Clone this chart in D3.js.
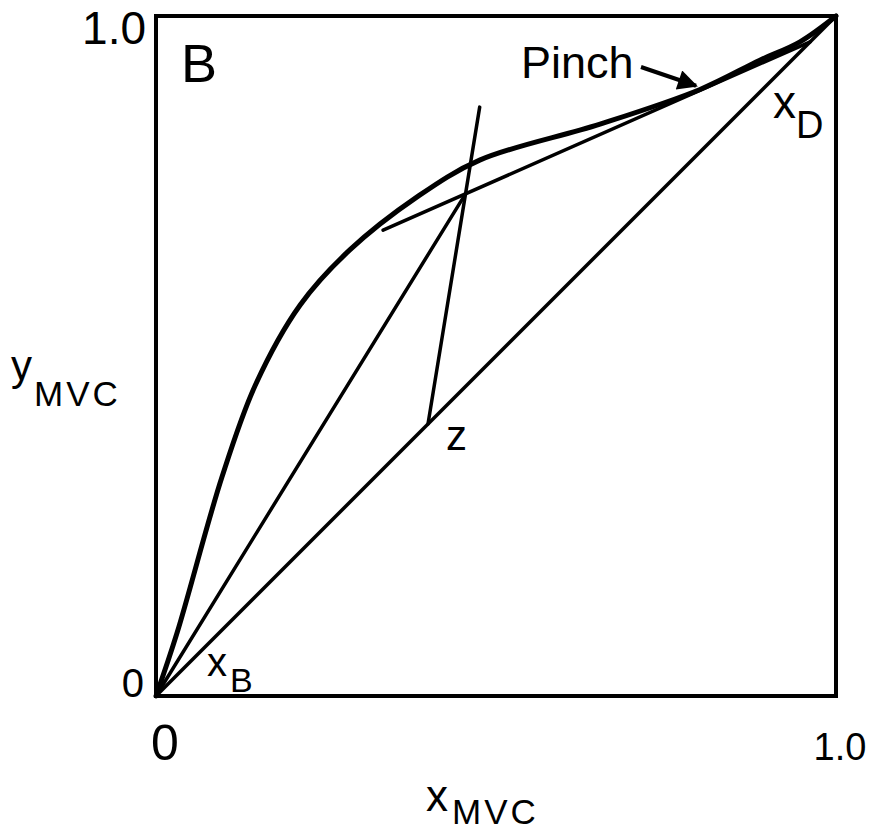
<!DOCTYPE html>
<html>
<head>
<meta charset="utf-8">
<script src="https://cdn.jsdelivr.net/npm/d3@7"></script>
<style>
  body { margin: 0; background: #fff; }
  svg text { font-family: "Liberation Sans", Arial, sans-serif; fill: #000; }
</style>
</head>
<body>
<div id="chart"></div>
<script>
// equilibrium curve (y vs x, mole fraction MVC)
const eqX = [0, 0.031, 0.097, 0.146, 0.212, 0.285, 0.384, 0.476, 0.653, 0.800, 0.888, 0.947, 1];
const eqY = [0, 0.093, 0.322, 0.457, 0.575, 0.656, 0.734, 0.788, 0.841, 0.892, 0.935, 0.962, 1];

const xB = 0.0;
const zF = 0.40;
const xD = 0.962;
const rectStart = [0.334, 0.685];   // left end of rectifying line
const qTop = [0.476, 0.866];        // upper end of feed line
const pinch = [0.80, 0.893];

const width = 874;
const height = 831;

const svg = d3.select("#chart")
    .append("svg")
    .attr("width", width)
    .attr("height", height);

const x = d3.scaleLinear().domain([0, 1]).range([156, 836]);
const y = d3.scaleLinear().domain([0, 1]).range([696, 16]);

const line = d3.line()
    .x(d => x(d[0]))
    .y(d => y(d[1]));

// intersection of rectifying line and feed line
const sR = (xD - rectStart[1]) / (xD - rectStart[0]);
const sQ = (qTop[1] - zF) / (qTop[0] - zF);
const ix = (rectStart[1] - sR * rectStart[0] - zF + sQ * zF) / (sQ - sR);
const iy = rectStart[1] + sR * (ix - rectStart[0]);

// frame
svg.append("rect")
    .attr("x", x(0))
    .attr("y", y(1))
    .attr("width", x(1) - x(0))
    .attr("height", y(0) - y(1))
    .attr("fill", "none")
    .attr("stroke", "#000")
    .attr("stroke-width", 4);

// diagonal y = x
svg.append("path")
    .attr("d", line([[0, 0], [1, 1]]))
    .attr("fill", "none")
    .attr("stroke", "#000")
    .attr("stroke-width", 3.5);

// equilibrium curve
const eqLine = d3.line()
    .x(d => x(d[0]))
    .y(d => y(d[1]))
    .curve(d3.curveCatmullRom.alpha(0.5));

svg.append("path")
    .attr("d", eqLine(eqX.map((v, i) => [v, eqY[i]])))
    .attr("fill", "none")
    .attr("stroke", "#000")
    .attr("stroke-width", 5)
    .attr("stroke-linecap", "round");

// stripping line, rectifying line, feed line
const ops = [
    [[xB, xB], [ix, iy]],
    [rectStart, [xD, xD]],
    [[zF, zF], qTop]
];
svg.selectAll(".op")
    .data(ops)
    .enter().append("path")
    .attr("class", "op")
    .attr("d", d => line(d))
    .attr("fill", "none")
    .attr("stroke", "#000")
    .attr("stroke-width", 3.5)
    .attr("stroke-linecap", "round");

// pinch arrow
svg.append("defs").append("marker")
    .attr("id", "head")
    .attr("viewBox", "0 0 10 10")
    .attr("refX", 9)
    .attr("refY", 5)
    .attr("markerWidth", 6)
    .attr("markerHeight", 5)
    .attr("orient", "auto")
    .append("path")
    .attr("d", "M0,0L10,5L0,10z")
    .attr("fill", "#000");

svg.append("line")
    .attr("x1", 641)
    .attr("y1", 67)
    .attr("x2", x(pinch[0]) - 4)
    .attr("y2", y(pinch[1]) - 3)
    .attr("stroke", "#000")
    .attr("stroke-width", 4)
    .attr("marker-end", "url(#head)");

// tick labels
svg.append("text").attr("x", 146).attr("y", 44).attr("text-anchor", "end")
    .style("font-size", "46px").text("1.0");
svg.append("text").attr("x", 144).attr("y", 697).attr("text-anchor", "end")
    .style("font-size", "40px").text("0");
svg.append("text").attr("x", x(0) + 9).attr("y", 760).attr("text-anchor", "middle")
    .style("font-size", "50px").text("0");
svg.append("text").attr("x", x(1) + 4).attr("y", 760).attr("text-anchor", "middle")
    .style("font-size", "38px").text("1.0");

// axis titles
const xt = svg.append("text").attr("x", 426).attr("y", 811).style("font-size", "44px");
xt.append("tspan").text("x");
xt.append("tspan").attr("dy", 13).attr("dx", 4).style("font-size", "35px")
    .style("letter-spacing", "3px").text("MVC");

const yt = svg.append("text").attr("x", 11).attr("y", 380).style("font-size", "42px");
yt.append("tspan").text("y");
yt.append("tspan").attr("dy", 26).attr("dx", 2).style("font-size", "35px")
    .style("letter-spacing", "3px").text("MVC");

// annotations
svg.append("text").attr("x", 181).attr("y", 82).style("font-size", "54px").text("B");
svg.append("text").attr("x", 521).attr("y", 78).style("font-size", "45px").text("Pinch");
svg.append("text").attr("x", 446).attr("y", 450).style("font-size", "42px").text("z");

const tb = svg.append("text").attr("x", 207).attr("y", 676).style("font-size", "40px");
tb.append("tspan").text("x");
tb.append("tspan").attr("dy", 16).attr("dx", 3).style("font-size", "34px").text("B");

const td = svg.append("text").attr("x", 773).attr("y", 118).style("font-size", "46px");
td.append("tspan").text("x");
td.append("tspan").attr("dy", 20).style("font-size", "38px").text("D");
</script>
</body>
</html>
